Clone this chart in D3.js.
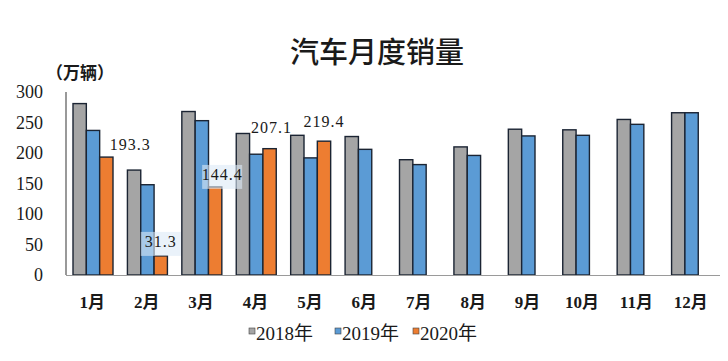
<!DOCTYPE html>
<html><head><meta charset="utf-8">
<script src="https://cdn.jsdelivr.net/npm/d3@7"></script>
<style>body{margin:0;background:#fff}svg{display:block}
.serif{font-family:"Liberation Serif","DejaVu Serif","Times New Roman",serif}
.mix{font-family:"Liberation Serif","DejaVu Serif",serif,"Noto Sans CJK SC"}
</style>
</head><body><svg id="c" width="728" height="361"></svg>
<script>
const months = ["1月","2月","3月","4月","5月","6月","7月","8月","9月","10月","11月","12月"];
const seriesNames = ["2018年","2019年","2020年"];
const sales2018 = [281,172,268,232,229,227,189,210,239,238,255,266];
const sales2019 = [237,148,253,198,192,206,181,196,228,229,247,266];
const sales2020 = [193.3,31.3,144.4,207.1,219.4];
const yTicks = [0,50,100,150,200,250,300];
const seriesColors = ["#a5a5a5","#5b9bd5","#ed7d31"];

// manual label nudges (layout, not data): [dx, dy] from orange bar's top-centre
const labelNudge = [[24,-7],[0,-9],[7,-7],[2,-16],[0,-14]];
const labelBoxed = [false,true,true,false,false];

const svg = d3.select("#c");
const x = d3.scaleBand().domain(months).range([66,719]);
const xs = d3.scaleBand().domain(seriesNames).range([7,47]);
const y = d3.scaleLinear().domain([0,300]).range([275,92]);

const all = [sales2018, sales2019, sales2020];
const bars = [];
all.forEach((arr,si)=>arr.forEach((v,mi)=>bars.push({m:months[mi],s:seriesNames[si],si,v})));

// title
svg.append("text").attr("x",377).attr("y",63).attr("text-anchor","middle")
  .attr("font-family","Noto Sans CJK SC").attr("font-weight",500).attr("font-size",29)
  .attr("fill","#1a1a1a").text("汽车月度销量");
// unit
svg.append("text").attr("x",46).attr("y",79)
  .attr("font-family","Noto Sans CJK SC").attr("font-weight",700).attr("font-size",17)
  .attr("fill","#1a1a1a").text("（万辆）");

// y ticks
svg.append("g").selectAll("text").data(yTicks).join("text").attr("class","serif")
  .attr("x",43).attr("y",d=>y(d)+6).attr("text-anchor","end")
  .attr("font-size",18).attr("fill","#1a1a1a")
  .text(d=>d);

// bars
svg.append("g").selectAll("rect").data(bars).join("rect")
  .attr("x",d=>x(d.m)+xs(d.s)).attr("width",xs.bandwidth())
  .attr("y",d=>y(d.v)).attr("height",d=>y(0)-y(d.v))
  .attr("fill",d=>seriesColors[d.si]).attr("stroke","#1b2433").attr("stroke-width",1.4);

// axes lines
svg.append("line").attr("x1",66).attr("x2",66).attr("y1",y(300)).attr("y2",y(0))
  .attr("stroke","#555").attr("stroke-width",1.2);
svg.append("line").attr("x1",66).attr("x2",720).attr("y1",y(0)+0.5).attr("y2",y(0)+0.5)
  .attr("stroke","#9a9a9a").attr("stroke-width",1.2);

// month labels
svg.append("g").selectAll("text").data(months).join("text").attr("class","mix")
  .attr("x",d=>x(d)+x.bandwidth()/2-1).attr("y",308).attr("text-anchor","middle")
  .attr("font-size",17).attr("font-weight",700)
  .attr("fill","#1a1a1a").text(d=>d);

// data labels for 2020
const lg = svg.append("g");
sales2020.forEach((v,i)=>{
  const cx = x(months[i])+xs("2020年")+xs.bandwidth()/2+labelNudge[i][0];
  const cy = y(v)+labelNudge[i][1];
  if(labelBoxed[i]){
    lg.append("rect").attr("x",cx-20).attr("y",cy-15).attr("width",40).attr("height",24)
      .attr("fill","#dce9f6").attr("opacity",0.6);
  }
  lg.append("text").attr("class","serif").attr("x",cx).attr("y",cy).attr("text-anchor","middle")
    .attr("font-size",16).attr("letter-spacing",1)
    .attr("fill","#1a1a1a").text(v.toFixed(1));
});

// legend
const legX = [249,335,413];
const leg = svg.append("g");
seriesNames.forEach((s,i)=>{
  leg.append("rect").attr("x",legX[i]).attr("y",328).attr("width",6).attr("height",6)
    .attr("fill",seriesColors[i]).attr("stroke","#444").attr("stroke-width",0.6);
  leg.append("text").attr("class","mix").attr("x",legX[i]+7).attr("y",340)
    .attr("font-size",19)
    .attr("fill","#1a1a1a").text(s);
});
</script></body></html>
